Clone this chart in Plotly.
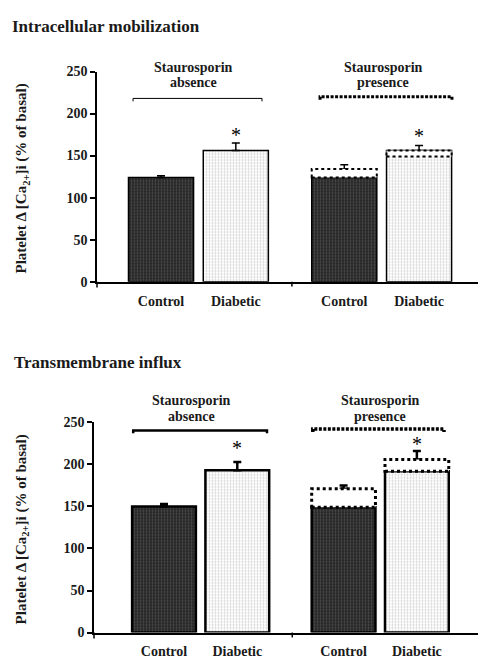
import plotly.graph_objects as go

# ---------------- data ----------------
group_line1 = ["Staurosporin", "Staurosporin"]
group_line2 = ["absence", "presence"]
categories = ["Control", "Diabetic", "Control", "Diabetic"]

# Intracellular mobilization
top_bar = [124, 156, 124, 156]          # solid bars
top_stauro = [None, None, 134, 149]     # staurosporin (dotted outline) values
top_err = [2, 9, 5, 6]
top_sig = [False, True, False, True]

# Transmembrane influx
bot_bar = [150, 193, 149, 192]
bot_stauro = [None, None, 171, 206]
bot_err = [3, 10, 4, 10]
bot_sig = [False, True, False, True]

yticks = [0, 50, 100, 150, 200, 250]

# ---------------- layout helpers ----------------
W, H = 478, 664
pos = [0, 1, 2.45, 3.45]
bw = 0.87
FONT = "Liberation Serif"
TXT = "#1a1a1a"

def py(p):
    return (H - p) / H

fig = go.Figure()

panels = [
    dict(bar=top_bar, st=top_stauro, err=top_err, sig=top_sig, xa="x", ya="y",
         xdom=[97 / W, 1], ydom=[py(281), py(66)], xr=[-0.856, 4.238], lw=1.5,
         br_y=[218, 220], br_x=[(-0.374, 1.35), (2.126, 3.89)], lab_y=[254.5, 237.5],
         lab_x=[0.43, 2.97], star_shift=[0, -5, 0, -4], title="Intracellular mobilization",
         title_y=20, title_x=10, brw=[1, 3], standoff=6),
    dict(bar=bot_bar, st=bot_stauro, err=bot_err, sig=bot_sig, xa="x2", ya="y2",
         xdom=[94 / W, 1], ydom=[py(640), py(425)], xr=[-0.955, 4.284], lw=2.5,
         br_y=[240.5, 242], br_x=[(-0.42, 1.405), (2.03, 3.82)], lab_y=[276, 257],
         lab_x=[0.38, 2.95], star_shift=[0, 1, 0, -6], title="Transmembrane influx",
         title_y=364, title_x=12, brw=[2.5, 3.5], standoff=5),
]

dark = dict(fgcolor="#7a7a7a", bgcolor="#262626", shape=".", size=3, solidity=0.3)
light = dict(fgcolor="#a0a0a0", bgcolor="#ffffff", shape=".", size=3, solidity=0.3)

shapes = []
annotations = []
for i, p in enumerate(panels):
    xa, ya = p["xa"], p["ya"]
    y0d, y1d = p["ydom"]

    def vpaper(v):
        return y0d + v / 250 * (y1d - y0d)

    for j, c in enumerate(categories):
        pat = dark if c == "Control" else light
        fig.add_trace(go.Bar(
            x=[pos[j]], y=[p["bar"][j]], width=bw, xaxis=xa, yaxis=ya,
            marker=dict(color=pat["bgcolor"], pattern=pat,
                        line=dict(color="black", width=p["lw"])),
            showlegend=False, hoverinfo="skip"))
    # dotted staurosporin boxes
    for j in range(4):
        s = p["st"][j]
        if s is None:
            continue
        b = p["bar"][j]
        shapes.append(dict(type="rect", xref=xa, yref=ya,
                           x0=pos[j] - bw / 2, x1=pos[j] + bw / 2,
                           y0=min(b, s), y1=max(b, s), fillcolor="white",
                           line=dict(color="black", width=p["lw"] + 0.5, dash="dot")))
    # error bars
    tops = [max(b, s) if s is not None else b for b, s in zip(p["bar"], p["st"])]
    fig.add_trace(go.Scatter(
        x=pos, y=tops, mode="markers", xaxis=xa, yaxis=ya,
        marker=dict(size=0.1, color="rgba(0,0,0,0)"),
        error_y=dict(type="data", array=p["err"], arrayminus=[0] * 4, symmetric=False,
                     color="black", thickness=p["lw"], width=4),
        showlegend=False, hoverinfo="skip"))
    # asterisks
    for j in range(4):
        if p["sig"][j]:
            annotations.append(dict(xref=xa, yref="paper", x=pos[j],
                                    y=vpaper(tops[j] + p["err"][j]),
                                    text="*", showarrow=False, xanchor="center",
                                    yanchor="bottom",
                                    yshift=p["star_shift"][j],
                                    font=dict(family=FONT, size=20, color="black")))
    # brackets
    d = 3.5
    for k in range(2):
        x0, x1 = p["br_x"][k]
        yb = p["br_y"][k]
        shapes.append(dict(type="path", xref=xa, yref=ya,
                           path=f"M {x0},{yb - d} L {x0},{yb} L {x1},{yb} L {x1},{yb - d}",
                           line=dict(color="black", width=p["brw"][k],
                                     dash="solid" if k == 0 else "3px,1.5px")))
        for txt, lv in ((group_line1[k], p["lab_y"][0]), (group_line2[k], p["lab_y"][1])):
            annotations.append(dict(xref=xa, yref="paper", x=p["lab_x"][k], y=vpaper(lv),
                                    text=txt, showarrow=False,
                                    xanchor="center", yanchor="middle",
                                    font=dict(family=FONT, size=14, color=TXT, weight="bold")))
    # middle tick on x axis
    shapes.append(dict(type="line", xref=xa, yref="paper", x0=1.75, x1=1.75,
                       y0=y0d, y1=y0d - 5 / H, line=dict(color="black", width=1.5)))
    # y axis line extension below zero
    shapes.append(dict(type="line", xref=xa + " domain", yref="paper", x0=0, x1=0,
                       y0=y0d, y1=y0d - 6 / H, line=dict(color="black", width=1.5)))
    # panel title
    annotations.append(dict(xref="paper", yref="paper", x=p["title_x"] / W, y=py(p["title_y"]),
                            xanchor="left", yanchor="middle", showarrow=False,
                            text=p["title"],
                            font=dict(family=FONT, size=17, color=TXT, weight="bold")))
    # y title
    annotations.append(dict(xref="paper", yref="paper", x=22 / W,
                            y=(y0d + y1d) / 2 - 2 / H,
                            xanchor="center", yanchor="middle",
                            textangle=-90, showarrow=False,
                            text="Platelet Δ [Ca<sub>2+</sub>]i (% of basal)",
                            font=dict(family=FONT, size=15, color=TXT, weight="bold")))

axis_common = dict(showgrid=False, zeroline=False, showline=True, linecolor="black",
                   linewidth=1.5)
for i, p in enumerate(panels):
    sfx = "" if i == 0 else "2"
    fig.update_layout(**{
        "xaxis" + sfx: dict(axis_common, domain=p["xdom"], range=p["xr"],
                            anchor="y" + sfx, tickvals=pos, ticktext=categories,
                            ticks="", ticklabelstandoff=p["standoff"],
                            tickfont=dict(family=FONT, size=14, color=TXT, weight="bold")),
        "yaxis" + sfx: dict(axis_common, domain=p["ydom"], range=[0, 250],
                            anchor="x" + sfx, tickvals=yticks, ticks="outside",
                            ticklen=5, tickwidth=1.5, tickcolor="black",
                            tickfont=dict(family=FONT, size=14, color=TXT, weight="bold"),
                            tickformat="d"),
    })

fig.update_layout(width=W, height=H, margin=dict(l=0, r=0, t=0, b=0),
                  paper_bgcolor="white", plot_bgcolor="white",
                  shapes=shapes, annotations=annotations, barmode="overlay",
                  font=dict(family=FONT, color=TXT))

fig.write_html("out.html", config={"displayModeBar": False},
               post_script="document.body.style.margin='0px';")
